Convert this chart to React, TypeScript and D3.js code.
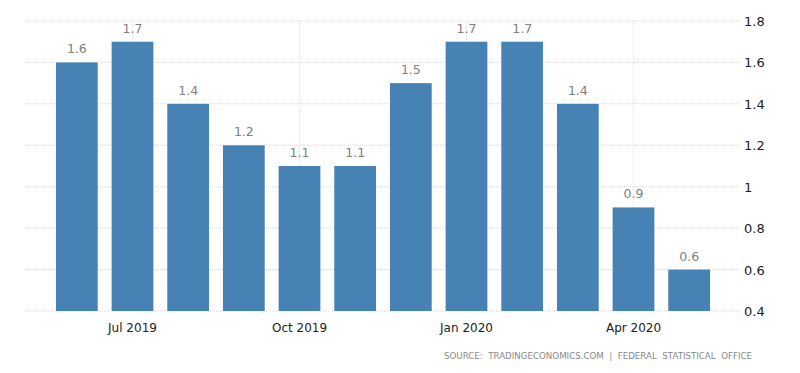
import React, { useEffect, useRef } from 'react'
import * as d3 from 'd3'

// monthly values Jun 2019 .. May 2020
const months = ['Jun 2019', 'Jul 2019', 'Aug 2019', 'Sep 2019', 'Oct 2019', 'Nov 2019',
    'Dec 2019', 'Jan 2020', 'Feb 2020', 'Mar 2020', 'Apr 2020', 'May 2020']
const values = [1.6, 1.7, 1.4, 1.2, 1.1, 1.1, 1.5, 1.7, 1.7, 1.4, 0.9, 0.6]
const xTickLabels = ['Jul 2019', 'Oct 2019', 'Jan 2020', 'Apr 2020']
const yTicks = [0.4, 0.6, 0.8, 1, 1.2, 1.4, 1.6, 1.8]
const sourceText = 'SOURCE:  TRADINGECONOMICS.COM  |  FEDERAL  STATISTICAL  OFFICE'

const W = 800, H = 373

export default function App() {
    const ref = useRef<SVGSVGElement>(null)

    useEffect(() => {
        const svg = d3.select(ref.current)
        svg.selectAll('*').remove()

        const x = d3.scaleBand<string>()
            .domain(months)
            .range([49, 717])
            .paddingInner(0.25)
            .paddingOuter(0.125)

        const y = d3.scaleLinear()
            .domain([0.4, 1.8])
            .range([311, 21])

        const font = "'DejaVu Sans', Verdana, sans-serif"

        // horizontal grid
        svg.append('g')
            .selectAll('line')
            .data(yTicks)
            .enter().append('line')
            .attr('x1', 24).attr('x2', 740)
            .attr('y1', d => y(d)).attr('y2', d => y(d))
            .attr('stroke', '#d8d8d8')
            .attr('stroke-dasharray', '1,1')

        // vertical grid at the labelled months
        svg.append('g')
            .selectAll('line')
            .data(xTickLabels)
            .enter().append('line')
            .attr('x1', d => x(d)! + x.bandwidth() / 2)
            .attr('x2', d => x(d)! + x.bandwidth() / 2)
            .attr('y1', y(1.8)).attr('y2', y(0.4))
            .attr('stroke', '#e2e2e2')
            .attr('stroke-dasharray', '1,1')

        // bars
        svg.append('g')
            .selectAll('rect')
            .data(values)
            .enter().append('rect')
            .attr('x', (d, i) => x(months[i])!)
            .attr('width', x.bandwidth())
            .attr('y', d => y(d))
            .attr('height', d => y(0.4) - y(d))
            .attr('fill', '#4682b4')

        // value labels
        svg.append('g')
            .selectAll('text')
            .data(values)
            .enter().append('text')
            .attr('x', (d, i) => x(months[i])! + x.bandwidth() / 2)
            .attr('y', d => y(d) - 9)
            .attr('text-anchor', 'middle')
            .attr('font-family', font)
            .attr('font-size', 12.5)
            .attr('fill', '#808080')
            .text(d => String(d))

        // y axis labels on the right
        svg.append('g')
            .selectAll('text')
            .data(yTicks)
            .enter().append('text')
            .attr('x', 744)
            .attr('y', d => y(d) + 5)
            .attr('font-family', font)
            .attr('font-size', 13)
            .attr('fill', '#222')
            .text(d => String(d))

        // x axis labels
        svg.append('g')
            .selectAll('text')
            .data(xTickLabels)
            .enter().append('text')
            .attr('x', d => x(d)! + x.bandwidth() / 2)
            .attr('y', 332)
            .attr('text-anchor', 'middle')
            .attr('font-family', font)
            .attr('font-size', 12)
            .attr('fill', '#222')
            .text(d => d)

        svg.append('text')
            .attr('x', 444)
            .attr('y', 359)
            .attr('font-family', font)
            .attr('font-size', 9)
            .attr('fill', '#888')
            .attr('textLength', 308)
            .attr('lengthAdjust', 'spacingAndGlyphs')
            .style('white-space', 'pre')
            .text(sourceText)
    }, [])

    return (
        <svg ref={ref} width={W} height={H}
            style={{ position: 'absolute', left: 0, top: 0, background: '#fff' }} />
    )
}
